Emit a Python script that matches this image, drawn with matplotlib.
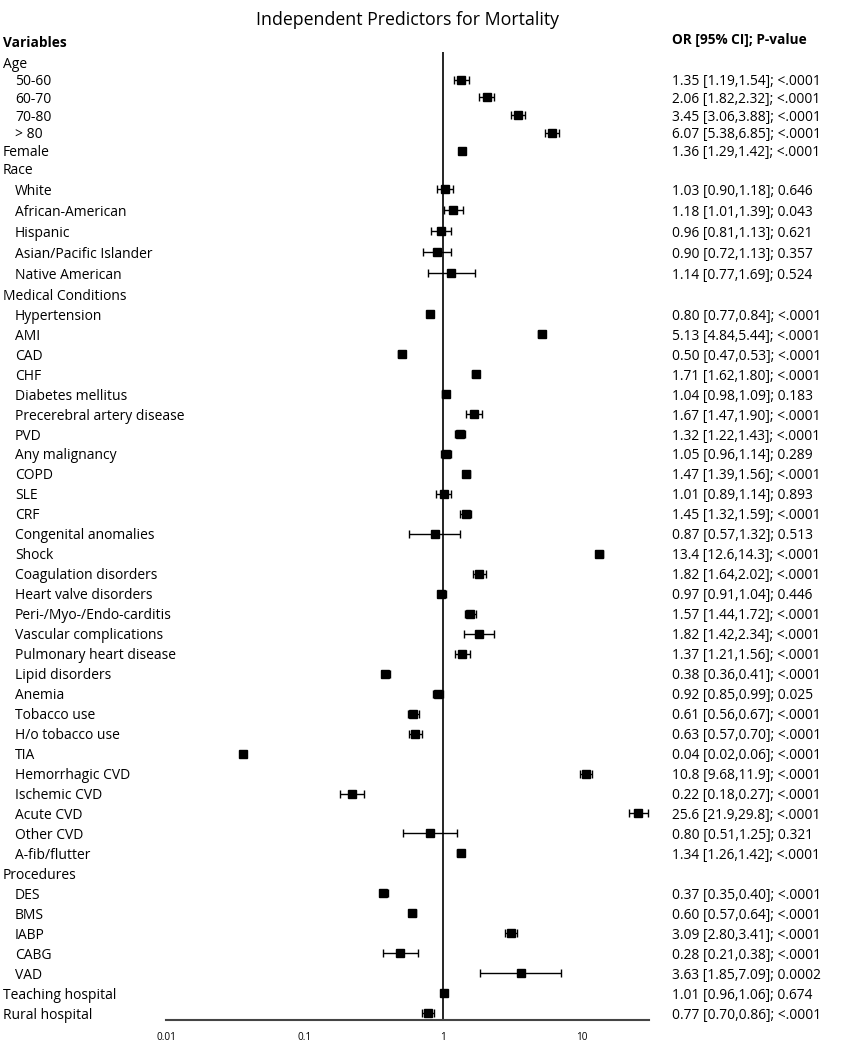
import matplotlib
matplotlib.use("Agg")
import matplotlib.pyplot as plt
import matplotlib.transforms as mtrans
import numpy as np

plt.rcParams['font.family'] = ['Open Sans', 'DejaVu Sans']

# rows: label, indent level (0 = top level, 1 = sub item)
labels = ["Age", "50-60", "60-70", "70-80", "> 80", "Female", "Race",
          "White", "African-American", "Hispanic", "Asian/Pacific Islander",
          "Native American", "Medical Conditions", "Hypertension", "AMI", "CAD",
          "CHF", "Diabetes mellitus", "Precerebral artery disease", "PVD",
          "Any malignancy", "COPD", "SLE", "CRF", "Congenital anomalies", "Shock",
          "Coagulation disorders", "Heart valve disorders",
          "Peri-/Myo-/Endo-carditis", "Vascular complications",
          "Pulmonary heart disease", "Lipid disorders", "Anemia", "Tobacco use",
          "H/o tobacco use", "TIA", "Hemorrhagic CVD", "Ischemic CVD",
          "Acute CVD", "Other CVD", "A-fib/flutter", "Procedures", "DES", "BMS",
          "IABP", "CABG", "VAD", "Teaching hospital", "Rural hospital"]
indent = [0, 1, 1, 1, 1, 0, 0,
          1, 1, 1, 1, 1, 0, 1, 1, 1, 1, 1, 1, 1, 1, 1, 1, 1, 1, 1, 1, 1,
          1, 1, 1, 1, 1, 1, 1, 1, 1, 1, 1, 1, 1, 0, 1, 1, 1, 1, 1, 0, 0]

# plotted points (as drawn in the figure)
nan = np.nan
odds = [nan, 1.35, 2.06, 3.45, 6.07, 1.36, nan,
        1.03, 1.18, 0.96, 0.90, 1.14, nan, 0.80, 5.13, 0.50,
        1.71, 1.04, 1.67, 1.32, 1.05, 1.47, 1.01, 1.45, 0.87, 13.4,
        1.82, 0.97, 1.57, 1.82, 1.37, 0.38, 0.92, 0.61, 0.63, 0.036,
        10.8, 0.22, 25.6, 0.80, 1.34, nan, 0.37, 0.60, 3.09, 0.49, 3.63,
        1.01, 0.77]
lower = [nan, 1.19, 1.82, 3.06, 5.38, 1.29, nan,
         0.90, 1.01, 0.81, 0.72, 0.77, nan, 0.77, 4.84, 0.47,
         1.62, 0.98, 1.47, 1.22, 0.96, 1.39, 0.89, 1.32, 0.57, 12.6,
         1.64, 0.91, 1.44, 1.42, 1.21, 0.36, 0.85, 0.56, 0.57, nan,
         9.68, 0.18, 21.9, 0.51, 1.26, nan, 0.35, 0.57, 2.80, 0.37, 1.85,
         0.96, 0.70]
upper = [nan, 1.54, 2.32, 3.88, 6.85, 1.42, nan,
         1.18, 1.39, 1.13, 1.13, 1.69, nan, 0.84, 5.44, 0.53,
         1.80, 1.09, 1.90, 1.43, 1.14, 1.56, 1.14, 1.59, 1.32, 14.3,
         2.02, 1.04, 1.72, 2.34, 1.56, 0.41, 0.99, 0.67, 0.70, nan,
         11.9, 0.27, 29.8, 1.25, 1.42, nan, 0.40, 0.64, 3.41, 0.66, 7.09,
         1.06, 0.86]

# right-hand column as printed
or_text = [None, "1.35 [1.19,1.54]; <.0001", "2.06 [1.82,2.32]; <.0001",
           "3.45 [3.06,3.88]; <.0001", "6.07 [5.38,6.85]; <.0001",
           "1.36 [1.29,1.42]; <.0001", None,
           "1.03 [0.90,1.18]; 0.646", "1.18 [1.01,1.39]; 0.043",
           "0.96 [0.81,1.13]; 0.621", "0.90 [0.72,1.13]; 0.357",
           "1.14 [0.77,1.69]; 0.524", None,
           "0.80 [0.77,0.84]; <.0001", "5.13 [4.84,5.44]; <.0001",
           "0.50 [0.47,0.53]; <.0001", "1.71 [1.62,1.80]; <.0001",
           "1.04 [0.98,1.09]; 0.183", "1.67 [1.47,1.90]; <.0001",
           "1.32 [1.22,1.43]; <.0001", "1.05 [0.96,1.14]; 0.289",
           "1.47 [1.39,1.56]; <.0001", "1.01 [0.89,1.14]; 0.893",
           "1.45 [1.32,1.59]; <.0001", "0.87 [0.57,1.32]; 0.513",
           "13.4 [12.6,14.3]; <.0001", "1.82 [1.64,2.02]; <.0001",
           "0.97 [0.91,1.04]; 0.446", "1.57 [1.44,1.72]; <.0001",
           "1.82 [1.42,2.34]; <.0001", "1.37 [1.21,1.56]; <.0001",
           "0.38 [0.36,0.41]; <.0001", "0.92 [0.85,0.99]; 0.025",
           "0.61 [0.56,0.67]; <.0001", "0.63 [0.57,0.70]; <.0001",
           "0.04 [0.02,0.06]; <.0001", "10.8 [9.68,11.9]; <.0001",
           "0.22 [0.18,0.27]; <.0001", "25.6 [21.9,29.8]; <.0001",
           "0.80 [0.51,1.25]; 0.321", "1.34 [1.26,1.42]; <.0001", None,
           "0.37 [0.35,0.40]; <.0001", "0.60 [0.57,0.64]; <.0001",
           "3.09 [2.80,3.41]; <.0001", "0.28 [0.21,0.38]; <.0001",
           "3.63 [1.85,7.09]; 0.0002", "1.01 [0.96,1.06]; 0.674",
           "0.77 [0.70,0.86]; <.0001"]

odds = np.array(odds)
lower = np.array(lower)
upper = np.array(upper)
n = len(labels)

# row spacing: age block a bit tighter, race block a bit looser
step = np.ones(n) * 0.9986
step[1:7] = 0.885
step[7:13] = 1.05
step[0] = 0
ypos = np.cumsum(step)

has = ~np.isnan(odds)
has_ci = has & ~np.isnan(lower)

fig = plt.figure(figsize=(8.44, 10.5), dpi=100)
ax = fig.add_axes([166 / 844, 1 - 1020 / 1050, 483 / 844, (1020 - 52) / 1050])

ax.errorbar(odds[has_ci], ypos[has_ci],
            xerr=[odds[has_ci] - lower[has_ci], upper[has_ci] - odds[has_ci]],
            fmt='none', ecolor='black', elinewidth=1, capsize=2.6,
            capthick=1)
ax.plot(odds[has], ypos[has], 's', color='black', ms=5.6, ls='none')
ax.axvline(1, color='black', lw=1.2)

ax.set_xscale('log')
ax.set_xlim(0.01, 30.5)
ax.set_ylim(47.9, -0.5)
ax.set_xticks([0.01, 0.1, 1, 10])
ax.set_xticklabels(["0.01", "0.1", "1", "10"])
ax.minorticks_off()
ax.tick_params(axis='x', length=0, labelsize=7.2, pad=9)
ax.set_yticks([])
for s in ['left', 'right', 'top']:
    ax.spines[s].set_visible(False)
ax.spines['bottom'].set_linewidth(1.5)
ax.spines['bottom'].set_color('#444444')

# text sits ~2px lower than the marker centre in the original
tr = mtrans.blended_transform_factory(fig.transFigure, ax.transData)
for i, lab in enumerate(labels):
    x = 15 / 844 if indent[i] else 3 / 844
    ax.text(x, ypos[i] + 0.1, lab, transform=tr, fontsize=10, va='center',
            ha='left', clip_on=False)
    if or_text[i]:
        ax.text(672 / 844, ypos[i] + 0.1, or_text[i], transform=tr,
                fontsize=9.9, va='center', ha='left', clip_on=False)

ax.text(3 / 844, -0.95, "Variables", transform=tr, fontsize=9.8,
        fontweight='bold', va='center', ha='left', clip_on=False)
ax.text(672 / 844, -1.1, "OR [95% CI]; P-value", transform=tr, fontsize=9.8,
        fontweight='bold', va='center', ha='left', clip_on=False)
fig.text(408 / 844, 1 - 20 / 1050, "Independent Predictors for Mortality",
         fontsize=12.8, ha='center', va='center')

fig.savefig("out.png", dpi=100)
